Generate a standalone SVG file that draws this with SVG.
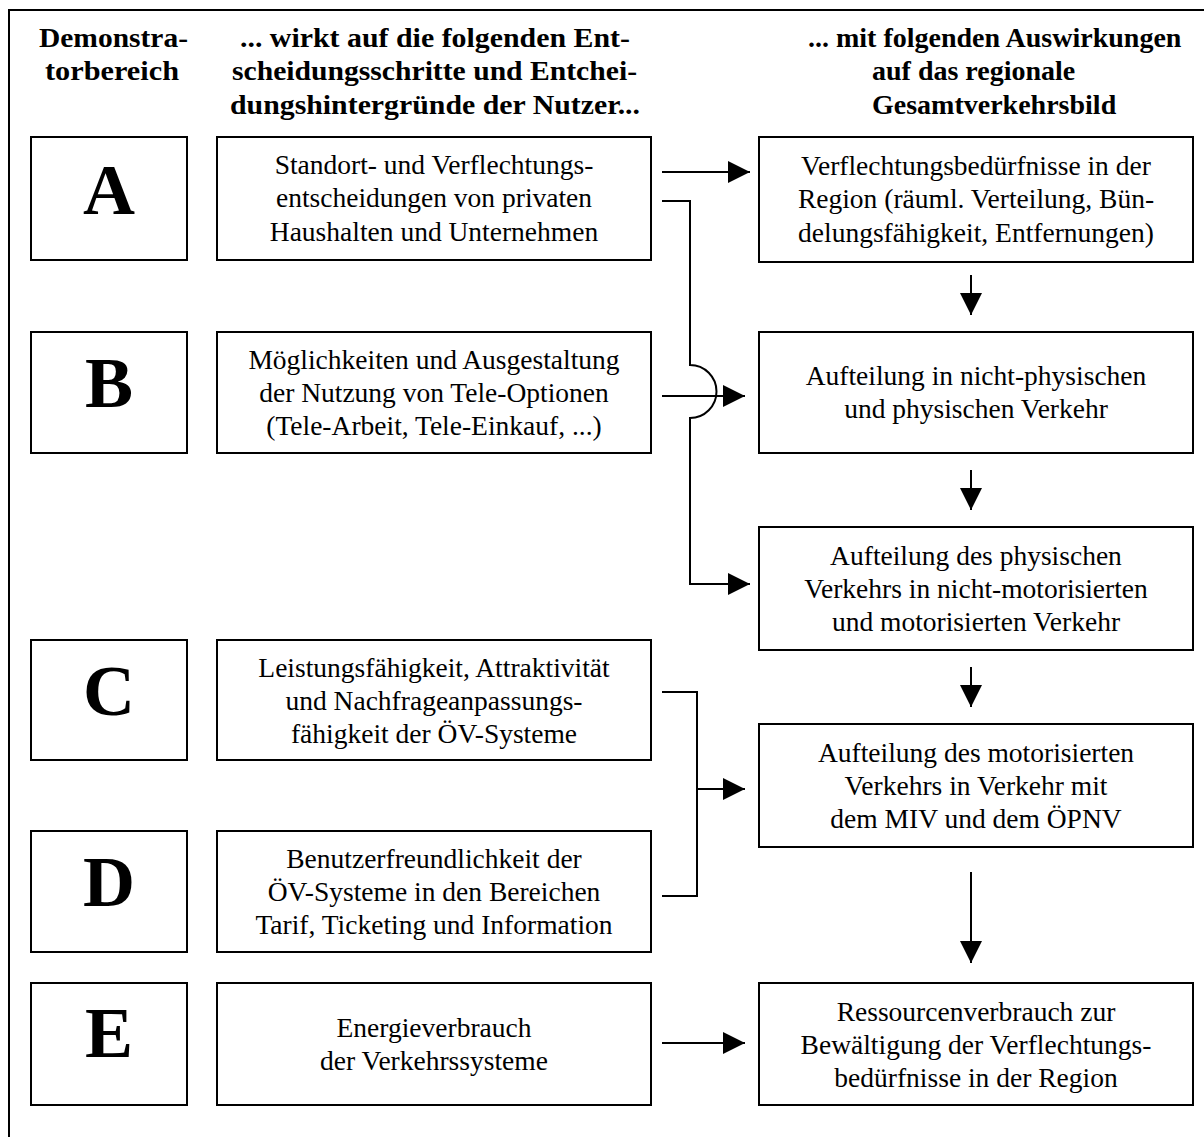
<svg xmlns="http://www.w3.org/2000/svg" width="1204" height="1137" viewBox="0 0 1204 1137">
<style>
.box{fill:#fff;stroke:#000;stroke-width:2}
.hd{font-family:"Liberation Serif",serif;font-weight:bold;font-size:28px;fill:#000}
.tx{font-family:"Liberation Serif",serif;font-size:27.5px;fill:#000;text-anchor:middle}
.lt{font-family:"Liberation Serif",serif;font-weight:bold;font-size:72px;fill:#000;text-anchor:middle}
.cn{fill:none;stroke:#000;stroke-width:2}
</style>
<defs>
<marker id="ah" markerUnits="userSpaceOnUse" markerWidth="22" markerHeight="22" viewBox="0 0 20 20" refX="20" refY="10" orient="auto">
<path d="M0,0 L20,10 L0,20 Z" fill="#000"/>
</marker>
</defs>
<rect width="1204" height="1137" fill="#fff"/>
<path d="M9,1137 V10 H1204" class="cn"/>
<g id="headers">
<text class="hd" x="39" y="47" textLength="149" lengthAdjust="spacingAndGlyphs">Demonstra-</text>
<text class="hd" x="45" y="80" textLength="134" lengthAdjust="spacingAndGlyphs">torbereich</text>
<text class="hd" x="240" y="47" textLength="390" lengthAdjust="spacingAndGlyphs">... wirkt auf die folgenden Ent-</text>
<text class="hd" x="232" y="80" textLength="405" lengthAdjust="spacingAndGlyphs">scheidungsschritte und Entchei-</text>
<text class="hd" x="230" y="114" textLength="410" lengthAdjust="spacingAndGlyphs">dungshintergründe der Nutzer...</text>
<text class="hd" x="808" y="47">... mit folgenden Auswirkungen</text>
<text class="hd" x="872" y="80">auf das regionale</text>
<text class="hd" x="872" y="114">Gesamtverkehrsbild</text>
</g>
<g id="A">
<rect class="box" x="31" y="137" width="156" height="123"/>
<text class="lt" x="109" y="214">A</text>
</g>
<g id="B">
<rect class="box" x="31" y="332" width="156" height="121"/>
<text class="lt" x="109" y="407">B</text>
</g>
<g id="C">
<rect class="box" x="31" y="640" width="156" height="120"/>
<text class="lt" x="109" y="715">C</text>
</g>
<g id="D">
<rect class="box" x="31" y="831" width="156" height="121"/>
<text class="lt" x="109" y="906">D</text>
</g>
<g id="E">
<rect class="box" x="31" y="983" width="156" height="122"/>
<text class="lt" x="109" y="1057">E</text>
</g>
<g id="tA">
<rect class="box" x="217" y="137" width="434" height="123"/>
<text class="tx" x="434" y="174">Standort- und Verflechtungs-</text>
<text class="tx" x="434" y="207">entscheidungen von privaten</text>
<text class="tx" x="434" y="241">Haushalten und Unternehmen</text>
</g>
<g id="tB">
<rect class="box" x="217" y="332" width="434" height="121"/>
<text class="tx" x="434" y="369">Möglichkeiten und Ausgestaltung</text>
<text class="tx" x="434" y="402">der Nutzung von Tele-Optionen</text>
<text class="tx" x="434" y="435">(Tele-Arbeit, Tele-Einkauf, ...)</text>
</g>
<g id="tC">
<rect class="box" x="217" y="640" width="434" height="120"/>
<text class="tx" x="434" y="677">Leistungsfähigkeit, Attraktivität</text>
<text class="tx" x="434" y="710">und Nachfrageanpassungs-</text>
<text class="tx" x="434" y="743">fähigkeit der ÖV-Systeme</text>
</g>
<g id="tD">
<rect class="box" x="217" y="831" width="434" height="121"/>
<text class="tx" x="434" y="868">Benutzerfreundlichkeit der</text>
<text class="tx" x="434" y="901">ÖV-Systeme in den Bereichen</text>
<text class="tx" x="434" y="934">Tarif, Ticketing und Information</text>
</g>
<g id="tE">
<rect class="box" x="217" y="983" width="434" height="122"/>
<text class="tx" x="434" y="1037">Energieverbrauch</text>
<text class="tx" x="434" y="1070">der Verkehrssysteme</text>
</g>
<g id="r1">
<rect class="box" x="759" y="137" width="434" height="125"/>
<text class="tx" x="976" y="175">Verflechtungsbedürfnisse in der</text>
<text class="tx" x="976" y="208">Region (räuml. Verteilung, Bün-</text>
<text class="tx" x="976" y="242">delungsfähigkeit, Entfernungen)</text>
</g>
<g id="r2">
<rect class="box" x="759" y="332" width="434" height="121"/>
<text class="tx" x="976" y="385">Aufteilung in nicht-physischen</text>
<text class="tx" x="976" y="418">und physischen Verkehr</text>
</g>
<g id="r3">
<rect class="box" x="759" y="527" width="434" height="123"/>
<text class="tx" x="976" y="565">Aufteilung des physischen</text>
<text class="tx" x="976" y="598">Verkehrs in nicht-motorisierten</text>
<text class="tx" x="976" y="631">und motorisierten Verkehr</text>
</g>
<g id="r4">
<rect class="box" x="759" y="724" width="434" height="123"/>
<text class="tx" x="976" y="762">Aufteilung des motorisierten</text>
<text class="tx" x="976" y="795">Verkehrs in Verkehr mit</text>
<text class="tx" x="976" y="828">dem MIV und dem ÖPNV</text>
</g>
<g id="r5">
<rect class="box" x="759" y="983" width="434" height="122"/>
<text class="tx" x="976" y="1021">Ressourcenverbrauch zur</text>
<text class="tx" x="976" y="1054">Bewältigung der Verflechtungs-</text>
<text class="tx" x="976" y="1087">bedürfnisse in der Region</text>
</g>
<g id="connectors">
<path class="cn" d="M662,172 H750" marker-end="url(#ah)"/>
<path class="cn" d="M662,201 H690 V365 A26.5,26.5 0 0 1 690,418 V584 H750" marker-end="url(#ah)"/>
<path class="cn" d="M662,396 H745" marker-end="url(#ah)"/>
<path class="cn" d="M662,692 H697 V896 H662"/>
<path class="cn" d="M697,789 H745" marker-end="url(#ah)"/>
<path class="cn" d="M662,1043 H745" marker-end="url(#ah)"/>
<path class="cn" d="M971,275 V315" marker-end="url(#ah)"/>
<path class="cn" d="M971,470 V510" marker-end="url(#ah)"/>
<path class="cn" d="M971,667 V707" marker-end="url(#ah)"/>
<path class="cn" d="M971,872 V963" marker-end="url(#ah)"/>
</g>
</svg>
